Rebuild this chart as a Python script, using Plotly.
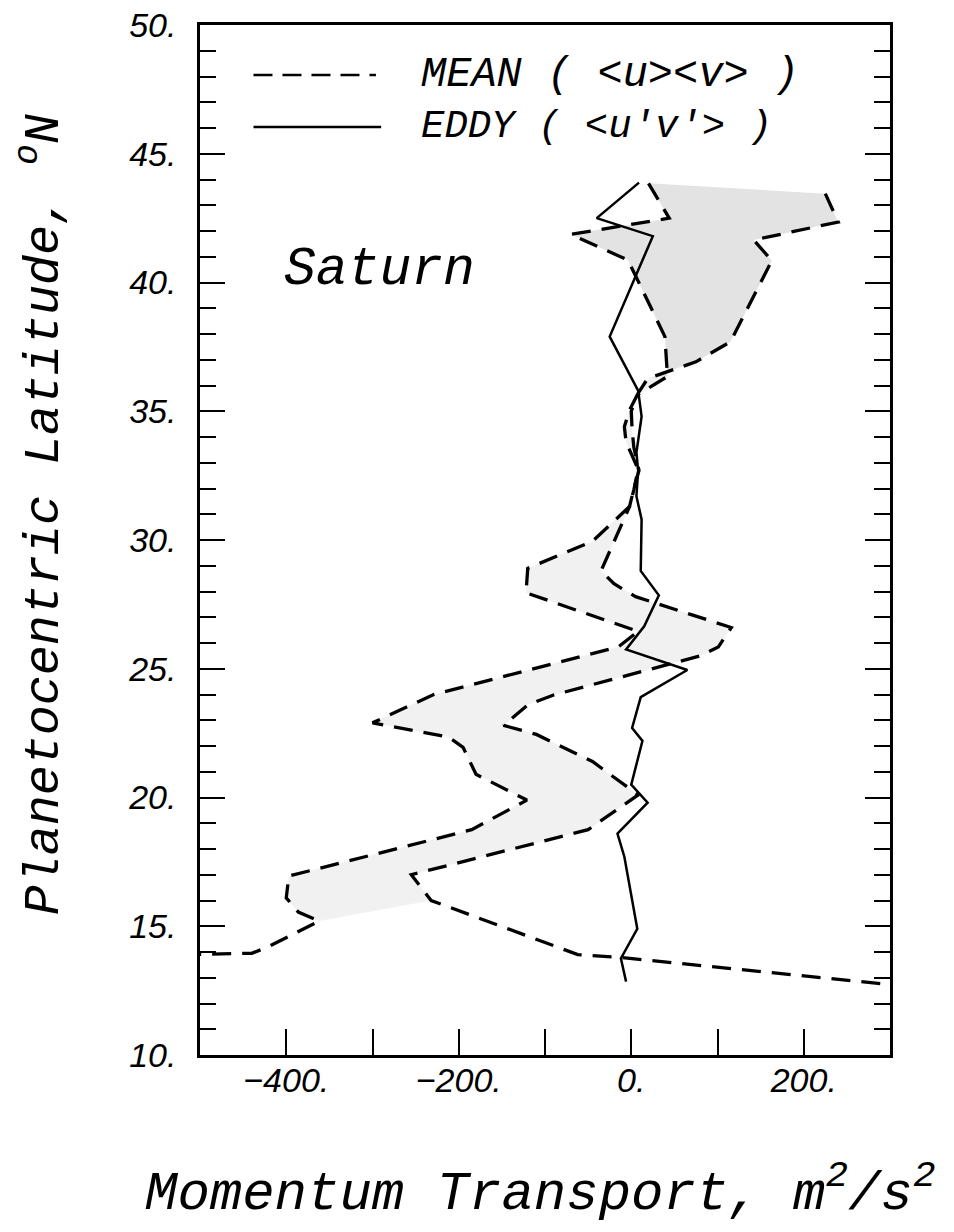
import plotly.graph_objects as go

# ---- data ----
# MEAN transport, curve 1 (latitude, value), listed north -> south
mean1_lat = [43.85, 42.5, 41.87, 40.87, 40.4, 37.9, 36.35, 35.63, 35.05, 34.4, 33.8, 32.75, 31.95, 31.3,
             29.95, 28.9, 27.95, 26.45, 25.85, 24.0, 22.9, 22.35, 21.95, 20.9, 19.9, 18.75, 16.95,
             16.1, 15.55, 15.2, 14.2, 13.95, 13.9]
mean1_val = [20, 44, -70, -4, 3, 39, 42, 7, -2, -8, -6, 8, 3, -2,
             -45, -120, -122, 8, -15, -229, -300, -212, -195, -180, -121, -185, -397,
             -400, -386, -362, -421, -440, -520]

# MEAN transport, curve 2
mean2_lat = [43.45, 42.35, 41.65, 40.85, 37.7, 36.92, 36.27, 35.7, 35.0, 34.3, 33.6, 32.7, 32.0, 31.3,
             28.8, 28.3, 27.8, 26.6, 25.85, 25.5, 23.98, 23.6, 22.8, 22.45, 21.4, 20.1, 18.75,
             17.0, 16.0, 13.9, 13.78, 12.7]
mean2_val = [225, 240, 142, 163, 115, 75, 19, 8, 0, 1, 3, 9, 3, -2,
             -35, -20, 5, 116, 101, 80, -90, -120, -148, -110, -45, 8, -50,
             -255, -232, -62, -10, 310]

# EDDY transport
eddy_lat = [43.88, 42.5, 41.8, 37.9, 35.8, 34.8, 33.4, 32.7, 31.7, 30.8, 28.8, 27.85, 26.65, 25.75,
            24.95, 23.9, 22.7, 22.2, 20.5, 19.8, 18.6, 17.7, 14.9, 13.75, 12.85]
eddy_val = [9, -40, 25, -25, 8, 12, 6, 8, 6, 12, 11, 32, 15, -6,
            65, 11, 1, 13, 0, 19, -16, -8, 7, -12, -6]

x_tickvals = [-400, -200, 0, 200]
x_ticktext = ["\u2212400.", "\u2212200.", "0.", "200."]
y_tickvals = [10, 15, 20, 25, 30, 35, 40, 45, 50]
y_ticktext = ["10.", "15.", "20.", "25.", "30.", "35.", "40.", "45.", "50."]

# slices of the two mean curves that bound the shaded bands
top1 = mean1_lat.index(36.35) + 1
top2 = mean2_lat.index(36.27) + 1
end1 = mean1_lat.index(15.2) + 1
end2 = mean2_lat.index(16.0) + 1

fig = go.Figure()


def band(i0, i1, j0, j1, color):
    fig.add_trace(go.Scatter(x=mean1_val[i0:i1], y=mean1_lat[i0:i1], mode="lines",
                             line=dict(width=0, color="rgba(0,0,0,0)"), showlegend=False,
                             hoverinfo="skip"))
    fig.add_trace(go.Scatter(x=mean2_val[j0:j1], y=mean2_lat[j0:j1], mode="lines",
                             line=dict(width=0, color="rgba(0,0,0,0)"), fill="tonexty",
                             fillcolor=color, showlegend=False, hoverinfo="skip"))


band(0, top1, 0, top2, "#e3e3e3")
band(top1 - 1, end1, top2 - 1, end2, "#f1f1f1")

dash = "19px,11px"
fig.add_trace(go.Scatter(x=mean1_val, y=mean1_lat, mode="lines", name="MEAN",
                         line=dict(color="black", width=3.3, dash=dash), showlegend=False))
fig.add_trace(go.Scatter(x=mean2_val, y=mean2_lat, mode="lines", name="MEAN",
                         line=dict(color="black", width=3.3, dash=dash), showlegend=False))
fig.add_trace(go.Scatter(x=eddy_val, y=eddy_lat, mode="lines", name="EDDY",
                         line=dict(color="black", width=2.5), showlegend=False))

tickfont = dict(family="Liberation Sans", size=34, color="black", style="italic")

fig.update_xaxes(range=[-500, 300], tickmode="array", tickvals=x_tickvals, ticktext=x_ticktext,
                 ticks="inside", ticklen=26, tickwidth=2, tickcolor="black",
                 minor=dict(dtick=100, tick0=0, ticks="inside", ticklen=26, tickwidth=2, tickcolor="black"),
                 showline=True, linewidth=2.5, linecolor="black", mirror=True,
                 showgrid=False, zeroline=False, tickfont=tickfont, ticklabelstandoff=-7,
                 ticklabeloverflow="allow", automargin=False)
fig.update_yaxes(range=[10, 50], tickmode="array", tickvals=y_tickvals, ticktext=y_ticktext,
                 ticks="inside", ticklen=25, tickwidth=2, tickcolor="black",
                 minor=dict(dtick=1, tick0=0, ticks="inside", ticklen=16, tickwidth=2, tickcolor="black"),
                 showline=True, linewidth=2.5, linecolor="black", mirror="ticks",
                 showgrid=False, zeroline=False, tickfont=tickfont, ticklabelstandoff=14,
                 ticklabeloverflow="allow", automargin=False)

serif = "Liberation Mono"
anns = [
    dict(text="Planetocentric Latitude, <sup>o</sup>N", xref="paper", yref="paper",
         x=-0.232, y=0.525, xanchor="center", yanchor="middle", textangle=-90, showarrow=False,
         font=dict(family=serif, size=50, color="black", style="italic")),
    dict(text="Momentum Transport, m<sup>2</sup>/s<sup>2</sup>", xref="paper", yref="paper",
         x=0.493, y=-0.131, xanchor="center", yanchor="middle", showarrow=False,
         font=dict(family=serif, size=54, color="black", style="italic")),
    dict(text="Saturn", xref="x", yref="y", x=-405, y=40.5, xanchor="left", yanchor="middle",
         showarrow=False, font=dict(family=serif, size=53, color="black", style="italic")),
    dict(text="MEAN ( &lt;u&gt;&lt;v&gt; )", xref="x", yref="y", x=-246, y=48.06, xanchor="left",
         yanchor="middle", showarrow=False,
         font=dict(family=serif, size=42, color="black", style="italic")),
    dict(text="EDDY ( &lt;u'v'&gt; )", xref="x", yref="y", x=-246, y=46.04, xanchor="left",
         yanchor="middle", showarrow=False,
         font=dict(family=serif, size=39, color="black", style="italic")),
]

shapes = [
    dict(type="line", xref="x", yref="y", x0=-438, x1=-296, y0=48.06, y1=48.06,
         line=dict(color="black", width=2.5, dash="19px,10px")),
    dict(type="line", xref="x", yref="y", x0=-438, x1=-290, y0=46.04, y1=46.04,
         line=dict(color="black", width=2.5)),
]

# page has an 8px body margin, so the figure is sized to fit inside the window
fig.update_layout(width=938, height=1216, margin=dict(l=192, r=56, t=17, b=169, autoexpand=False),
                  paper_bgcolor="white", plot_bgcolor="white",
                  annotations=anns, shapes=shapes, showlegend=False)

fig.write_html("out.html")
